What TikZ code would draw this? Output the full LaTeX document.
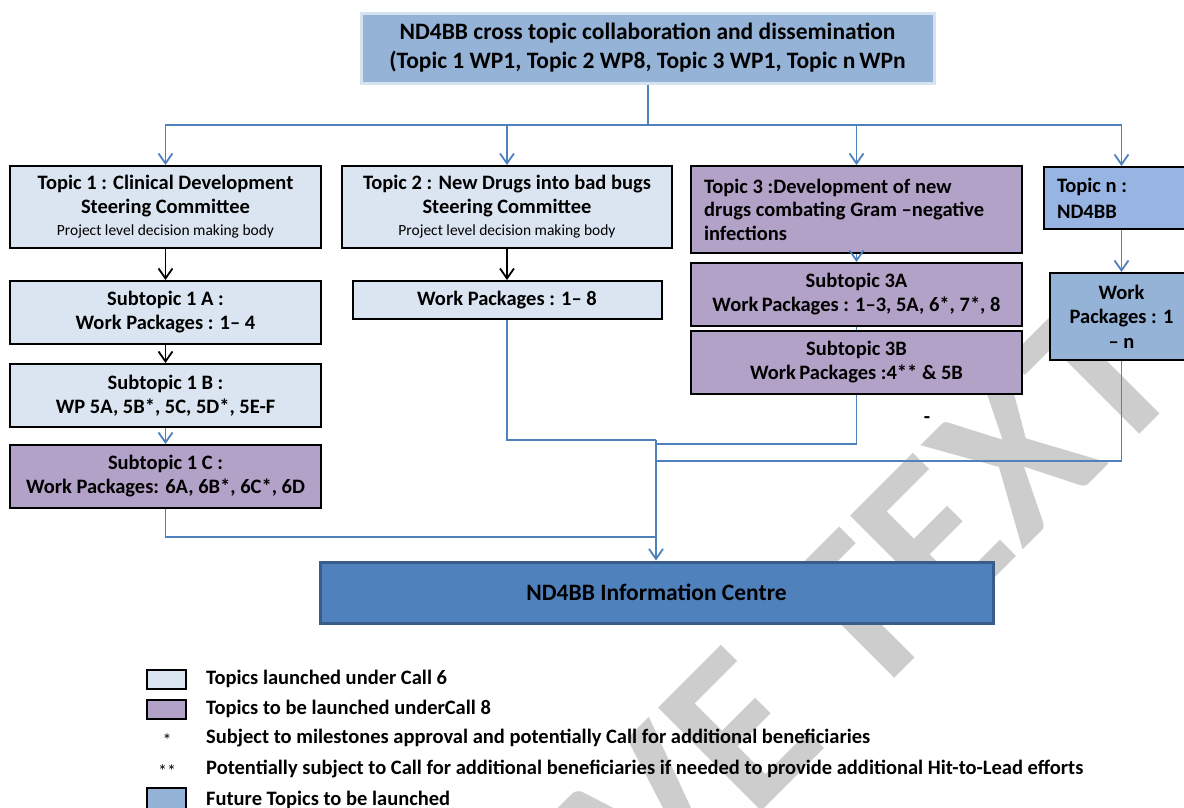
\documentclass[tikz,border=0pt]{standalone}
\usepackage{fontspec}
\setmainfont{Carlito}
\usepackage{tikz}
\usetikzlibrary{arrows.meta}
\definecolor{callsix}{HTML}{DBE5F1}
\definecolor{calleight}{HTML}{B3A2C7}
\definecolor{future}{HTML}{95B3D7}
\definecolor{futuretopic}{HTML}{98B4E3}
\definecolor{linkblue}{HTML}{4F81BD}
\definecolor{centreedge}{HTML}{385D8A}
\definecolor{topedge}{HTML}{D5E2F0}
\definecolor{wmgray}{HTML}{CDCDCD}
\tikzstyle{basebox} = [draw=black, line width=2pt, rectangle, inner sep=0pt,
    align=center, font=\bfseries\fontsize{20.5}{24}\selectfont]
\tikzstyle{sixbox} = [basebox, fill=callsix]
\tikzstyle{eightbox} = [basebox, fill=calleight]
\tikzstyle{futurebox} = [basebox, fill=future]
\tikzstyle{blueline} = [draw=linkblue, line width=1.8pt]
\tikzstyle{bluearrow} = [blueline, -{Straight Barb[length=10pt,width=14pt]}]
\tikzstyle{blackarrow} = [draw=black, line width=1.8pt, -{Straight Barb[length=10pt,width=14pt]}]
\tikzstyle{legendbox} = [draw=black, line width=2pt, minimum width=39pt, minimum height=19pt, inner sep=0pt]
\tikzstyle{legendtext} = [anchor=west, inner sep=0pt, font=\bfseries\fontsize{20.5}{24}\selectfont]
\newcommand{\smalltxt}[1]{{\normalfont\fontsize{15.5}{18}\selectfont #1}}

\begin{document}
\begin{tikzpicture}[x=1pt, y=-1pt]
                \fill[white] (0,0) rectangle (1184,807);
                \useasboundingbox (0,0) rectangle (1184,807);
                \clip (0,0) rectangle (1184,807);
                \node[text=wmgray, font=\bfseries\fontsize{225}{225}\selectfont, rotate=45, inner sep=0pt] (stamp) at (872,598) {VE TEXT};

                \node[futurebox, draw=topedge, line width=3pt, minimum width=573pt, minimum height=70pt,
                    font=\bfseries\fontsize{23.5}{29}\selectfont] (cross) at (647.5,48)
                    {ND4BB cross topic collaboration and dissemination\\(Topic 1 WP1, Topic 2 WP8, Topic 3 WP1, Topic n\,WPn};
                \node[sixbox, minimum width=311pt, minimum height=82pt] (topic1) at (165.5,207)
                    {Topic 1 : Clinical Development\\Steering Committee\\[-2pt]\smalltxt{Project level decision making body}};
                \node[sixbox, minimum width=330pt, minimum height=82pt] (topic2) at (507,207)
                    {Topic 2 : New Drugs into bad bugs\\Steering Committee\\[-2pt]\smalltxt{Project level decision making body}};
                \node[eightbox, minimum width=331pt, minimum height=87pt, text width=305pt, align=flush left,
                    font=\bfseries\fontsize{20.5}{23.5}\selectfont] (topic3) at (856.5,209.5)
                    {Topic 3 :Development of new\\drugs combating Gram –negative\\infections};
                \node[futurebox, fill=futuretopic, minimum width=155pt, minimum height=62pt, text width=129pt, align=flush left,
                    font=\bfseries\fontsize{20.5}{26}\selectfont] (topicn) at (1121.5,198) {Topic n :\\ND4BB};

                \node[sixbox, minimum width=311pt, minimum height=63pt] (sub1a) at (165.5,312.5) {Subtopic 1 A :\\Work Packages : 1– 4};
                \node[sixbox, minimum width=311pt, minimum height=63pt] (sub1b) at (165.5,395.5) {Subtopic 1 B :\\WP 5A, 5B*, 5C, 5D*, 5E-F};
                \node[eightbox, minimum width=311pt, minimum height=63pt] (sub1c) at (165.5,476.5) {Subtopic 1 C :\\Work Packages: 6A, 6B*, 6C*, 6D};
                \node[sixbox, minimum width=309pt, minimum height=38pt] (wp2) at (507,300) {Work Packages : 1– 8};
                \node[eightbox, minimum width=331pt, minimum height=63pt] (sub3a) at (856.5,294.5) {Subtopic 3A\\Work\,Packages : 1–3, 5A, 6*, 7*, 8};
                \node[eightbox, minimum width=331pt, minimum height=63pt] (sub3b) at (856.5,362.5) {Subtopic 3B\\Work\,Packages :4** \& 5B};
                \node[futurebox, minimum width=143pt, minimum height=87pt,
                    font=\bfseries\fontsize{20.5}{24.5}\selectfont] (wpn) at (1121.5,316.5) {Work\\Packages : 1\\– n};
                \node[font=\bfseries\fontsize{20.5}{24}\selectfont, inner sep=0pt] (stray) at (927,420) {-};

                \node[basebox, draw=centreedge, fill=linkblue, line width=3pt, minimum width=673pt, minimum height=61pt,
                    font=\bfseries\fontsize{23.5}{28}\selectfont] (centre) at (656.5,592.5) {ND4BB Information Centre};

                \coordinate (hub) at (648,125);
                \draw[blueline, line width=2.5pt] (cross.south -| hub) -- (hub);
                \foreach \t in {topic1,topic2,topic3,topicn}
                    \draw[bluearrow] (hub) -| (\t.north);
                \draw[blackarrow] (topic1) -- (sub1a);
                \draw[blackarrow] (sub1a) -- (sub1b);
                \draw[bluearrow] (sub1b) -- (sub1c);
                \draw[blackarrow] (topic2) -- (wp2);
                \draw[bluearrow] (topic3) -- (sub3a);
                \draw[blueline] (sub3a) -- (sub3b);
                \draw[bluearrow] (topicn) -- (wpn);

                \coordinate (joinA) at (656,537);
                \coordinate (joinB) at (656,440);
                \coordinate (joinC) at (656,444);
                \coordinate (joinD) at (656,461);
                \draw[blueline] (sub1c.south) |- (joinA);
                \draw[blueline] (wp2.south) |- (joinB);
                \draw[blueline] (sub3b.south) |- (joinC);
                \draw[blueline] (wpn.south) |- (joinD);
                \draw[bluearrow] (joinB) -- (joinB |- centre.north);

                \node[legendbox, fill=callsix] (keysix) at (166.5,679.5) {};
                \node[legendtext] (keysixtext) at (206,679) {Topics launched under Call 6};
                \node[legendbox, fill=calleight] (keyeight) at (166.5,709) {};
                \node[legendtext] (keyeighttext) at (206,709) {Topics to be launched underCall 8};
                \node[inner sep=0pt, font=\fontsize{18}{20}\selectfont] (keystar) at (167,740) {*};
                \node[legendtext] (keystartext) at (206,738) {Subject to milestones approval and potentially Call for additional beneficiaries};
                \node[inner sep=0pt, font=\fontsize{18}{20}\selectfont] (keystars) at (167,771) {**};
                \node[legendtext] (keystarstext) at (206,769) {Potentially subject to Call for additional beneficiaries if needed to provide additional Hit-to-Lead efforts};
                \node[legendbox, fill=future, minimum height=21pt] (keyfuture) at (166.5,798) {};
                \node[legendtext] (keyfuturetext) at (206,800) {Future Topics to be launched};
            \end{tikzpicture}
\end{document}
